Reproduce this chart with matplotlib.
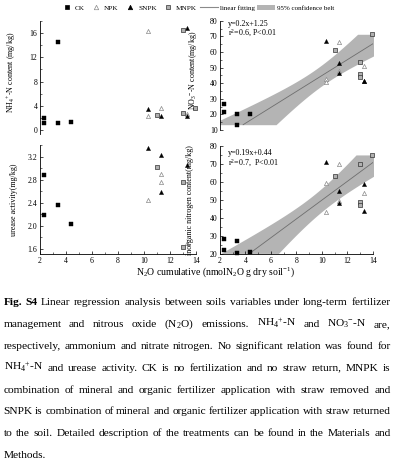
import numpy as np
import matplotlib
matplotlib.use('Agg')
import matplotlib.pyplot as plt
from matplotlib.lines import Line2D
from matplotlib.patches import Patch
from matplotlib.ticker import MultipleLocator, AutoMinorLocator

plt.rcParams['font.family'] = ['Liberation Serif', 'DejaVu Serif']
plt.rcParams['mathtext.fontset'] = 'custom'
plt.rcParams['mathtext.rm'] = 'Liberation Serif'
plt.rcParams['mathtext.it'] = 'Liberation Serif:italic'
plt.rcParams['mathtext.bf'] = 'Liberation Serif:bold'

# ---------------- data ----------------
treatments = ['CK', 'NPK', 'SNPK', 'MNPK']

n2o_ck = [2.3, 2.3, 3.35, 3.35, 4.35]
n2o_npk = [10.3, 10.3, 11.3, 11.3, 13.3]
n2o_snpk = [10.3, 11.3, 11.3, 13.3, 13.3]
n2o_mnpk = [11.0, 13.0, 13.0, 13.0, 13.95]

nh4_ck = [1.93, 1.2, 14.47, 1.1, 1.32]
nh4_npk = [16.3, 2.3, 3.7, np.nan, 2.6]
nh4_snpk = [3.47, 2.26, np.nan, 16.9, 2.3]
nh4_mnpk = [2.53, 16.5, 2.75, np.nan, 3.7]

no3_ck = [26.5, 21.3, 13.4, 20.0, 20.4]
no3_npk = [42.7, 40.9, 66.2, 47.5, 51.2]
no3_snpk = [67.2, 52.7, 46.3, 41.6, 41.6]
no3_mnpk = [61.2, 53.6, 45.9, 44.1, 71.3]

urease_ck = [2.88, 2.19, 2.36, np.nan, 2.02]
urease_npk = [2.45, np.nan, 2.89, 2.76, 1.69]
urease_snpk = [3.35, 3.22, 2.59, 3.06, np.nan]
urease_mnpk = [3.02, 2.75, 1.62, np.nan, np.nan]

inorg_ck = [28.3, 22.4, 27.5, 20.5, 21.3]
inorg_npk = [59.2, 43.2, 69.7, 49.5, 54.0]
inorg_snpk = [70.8, 55.0, 48.2, 58.7, 43.9]
inorg_mnpk = [63.4, 69.9, 48.9, 47.4, 74.9]

n2o = [n2o_ck, n2o_npk, n2o_snpk, n2o_mnpk]
panels = {
    'nh4': [nh4_ck, nh4_npk, nh4_snpk, nh4_mnpk],
    'no3': [no3_ck, no3_npk, no3_snpk, no3_mnpk],
    'urease': [urease_ck, urease_npk, urease_snpk, urease_mnpk],
    'inorg': [inorg_ck, inorg_npk, inorg_snpk, inorg_mnpk],
}

eq_no3 = ['y=0.2x+1.25', 'r$^2$=0.6, P<0.01']
eq_inorg = ['y=0.19x+0.44', 'r$^2$=0.7,  P<0.01']

# ---------------- styles ----------------
W, H = 399, 463
fig = plt.figure(figsize=(W / 100, H / 100), dpi=100)

styles = {
    'CK': dict(marker='s', s=5, facecolors='black', edgecolors='black', linewidths=0.3),
    'NPK': dict(marker='^', s=9, facecolors='white', edgecolors='#8a8a8a', linewidths=0.5),
    'SNPK': dict(marker='^', s=9, facecolors='black', edgecolors='black', linewidths=0.3),
    'MNPK': dict(marker='s', s=6, facecolors='#b0b0b0', edgecolors='#333333', linewidths=0.5),
}


def add_ax(x0, ytop, x1, ybot):
    return fig.add_axes([x0 / W, 1 - ybot / H, (x1 - x0) / W, (ybot - ytop) / H])


def style_ax(ax, bottom=True):
    ax.spines['top'].set_visible(False)
    ax.spines['right'].set_visible(False)
    for sp in ax.spines.values():
        sp.set_linewidth(0.6)
    ax.tick_params(axis='both', which='major', direction='in', length=2.5, width=0.5,
                   labelsize=5.6, pad=1.8)
    ax.tick_params(axis='both', which='minor', direction='in', length=1.5, width=0.4)
    ax.yaxis.set_minor_locator(AutoMinorLocator(2))
    if bottom:
        ax.xaxis.set_major_locator(MultipleLocator(2))
        ax.xaxis.set_minor_locator(AutoMinorLocator(2))
    else:
        ax.spines['bottom'].set_visible(False)
        ax.tick_params(axis='x', which='both', bottom=False, labelbottom=False)


def scatter_all(ax, key):
    for t, xs, ys in zip(treatments, n2o, panels[key]):
        ax.scatter(xs, ys, zorder=4, clip_on=False, **styles[t])


def regression(ax, key):
    xs = np.concatenate([np.asarray(v, float) for v in n2o])
    ys = np.concatenate([np.asarray(v, float) for v in panels[key]])
    m = ~np.isnan(xs) & ~np.isnan(ys)
    xs, ys = xs[m], ys[m]
    n = len(xs)
    b, a = np.polyfit(ys, xs, 1)  # N2O = a + b * variable
    resid = xs - (a + b * ys)
    s = np.sqrt(np.sum(resid ** 2) / (n - 2))
    syy = np.sum((ys - ys.mean()) ** 2)
    t = 2.101
    yg = np.linspace(ys.min(), ys.max(), 200)
    xh = a + b * yg
    se = s * np.sqrt(1.0 / n + (yg - ys.mean()) ** 2 / syy)
    ax.fill_betweenx(yg, xh - t * se, xh + t * se, color='#b4b4b4', lw=0, zorder=1)
    ax.plot(xh, yg, color='#6e6e6e', lw=0.6, zorder=2)


lab_fs = 5.8

# top-left: NH4
ax1 = add_ax(40, 21, 196, 134)
style_ax(ax1, bottom=False)
scatter_all(ax1, 'nh4')
ax1.set_xlim(2, 14)
ax1.set_ylim(-0.66, 18)
ax1.yaxis.set_major_locator(MultipleLocator(4))
ax1.set_ylabel('NH$_4$$^{+}$-N content (mg/kg)', fontsize=lab_fs)
ax1.yaxis.set_label_coords(-0.14, 0.55)

# bottom-left: urease
ax3 = add_ax(40, 145, 196, 254.3)
style_ax(ax3)
scatter_all(ax3, 'urease')
ax3.set_xlim(2, 14)
ax3.set_ylim(1.5, 3.4)
ax3.yaxis.set_major_locator(MultipleLocator(0.4))
ax3.set_ylabel('urease activity(mg/kg)', fontsize=lab_fs)
ax3.yaxis.set_label_coords(-0.14, 0.5)

# top-right: NO3
ax2 = add_ax(220, 20.7, 373, 130)
style_ax(ax2, bottom=False)
regression(ax2, 'no3')
scatter_all(ax2, 'no3')
ax2.set_xlim(2, 14)
ax2.set_ylim(10, 80)
ax2.yaxis.set_major_locator(MultipleLocator(10))
ax2.set_ylabel('NO$_3$$^{-}$-N content(mg/kg)', fontsize=lab_fs)
ax2.yaxis.set_label_coords(-0.135, 0.55)
ax2.text(228 / W, 1 - 23.5 / H, eq_no3[0], transform=fig.transFigure, fontsize=5.8, va='center')
ax2.text(228 / W, 1 - 33.5 / H, eq_no3[1], transform=fig.transFigure, fontsize=5.8, va='center')

# bottom-right: inorganic N
ax4 = add_ax(220, 145.7, 373, 254.3)
style_ax(ax4)
regression(ax4, 'inorg')
scatter_all(ax4, 'inorg')
ax4.set_xlim(2, 14)
ax4.set_ylim(20, 80)
ax4.yaxis.set_major_locator(MultipleLocator(10))
ax4.set_ylabel('inorganic nitrogen content(mg/kg)', fontsize=lab_fs)
ax4.yaxis.set_label_coords(-0.17, 0.5)
ax4.text(228 / W, 1 - 153 / H, eq_inorg[0], transform=fig.transFigure, fontsize=5.8, va='center')
ax4.text(228 / W, 1 - 163.5 / H, eq_inorg[1], transform=fig.transFigure, fontsize=5.8, va='center')

fig.text(215 / W, 1 - 272 / H, 'N$_2$O cumulative (nmolN$_2$O g dry soil$^{-1}$)',
         fontsize=7.0, ha='center', va='center')

# legends
mk_handles = [Line2D([], [], linestyle='none', marker=styles[t]['marker'],
                     markersize=2.6 if styles[t]['marker'] == 's' else 3.2,
                     markerfacecolor=styles[t]['facecolors'],
                     markeredgecolor=styles[t]['edgecolors'], markeredgewidth=0.5)
              for t in treatments]
leg1 = fig.legend(mk_handles, treatments, loc='center left',
                  bbox_to_anchor=(63 / W, 1 - 8 / H), ncol=4, frameon=False,
                  fontsize=5.2, handlelength=1.0, handletextpad=0.6,
                  columnspacing=1.1, borderpad=0, borderaxespad=0)
fit_handles = [Line2D([], [], color='#8a8a8a', lw=0.8),
               Patch(facecolor='#b4b4b4', edgecolor='none')]
leg2 = fig.legend(fit_handles, ['linear fitting', '95% confidence belt'], loc='center left',
                  bbox_to_anchor=(200 / W, 1 - 8 / H), ncol=2, frameon=False,
                  fontsize=5.0, handlelength=2.6, handletextpad=0.3,
                  columnspacing=0.2, borderpad=0, borderaxespad=0)

# ---------------- caption (justified) ----------------
caption_lines = [
    'Fig. S4 Linear regression analysis between soils variables under long-term fertilizer',
    'management and nitrous oxide (N$_2$O) emissions. NH$_4$$^{+}$-N and NO$_3$$^{-}$-N are,',
    'respectively, ammonium and nitrate nitrogen. No significant relation was found for',
    'NH$_4$$^{+}$-N and urease activity. CK is no fertilization and no straw return, MNPK is',
    'combination of mineral and organic fertilizer application with straw removed and',
    'SNPK is combination of mineral and organic fertilizer application with straw returned',
    'to the soil. Detailed description of the treatments can be found in the Materials and',
    'Methods.',
]
cap_fs = 8.2
x_left, x_right = 3.5, 390.5
base0, dy = 305, 21.9
fig.canvas.draw()
renderer = fig.canvas.get_renderer()
for i, line in enumerate(caption_lines):
    words = line.split(' ')
    yb = 1 - (base0 + i * dy) / H
    texts = []
    for j, w in enumerate(words):
        bold = (i == 0 and j < 2)
        texts.append(fig.text(0, yb, w, fontsize=cap_fs, va='baseline', ha='left',
                              fontweight='bold' if bold else 'normal'))
    widths = [t.get_window_extent(renderer).width for t in texts]
    if i < len(caption_lines) - 1 and len(words) > 1:
        gap = (x_right - x_left - sum(widths)) / (len(words) - 1)
    else:
        gap = cap_fs * 100 / 72 * 0.25
    x = x_left
    for t, w in zip(texts, widths):
        t.set_x(x / W)
        x += w + gap

fig.savefig('out.png', dpi=100)
